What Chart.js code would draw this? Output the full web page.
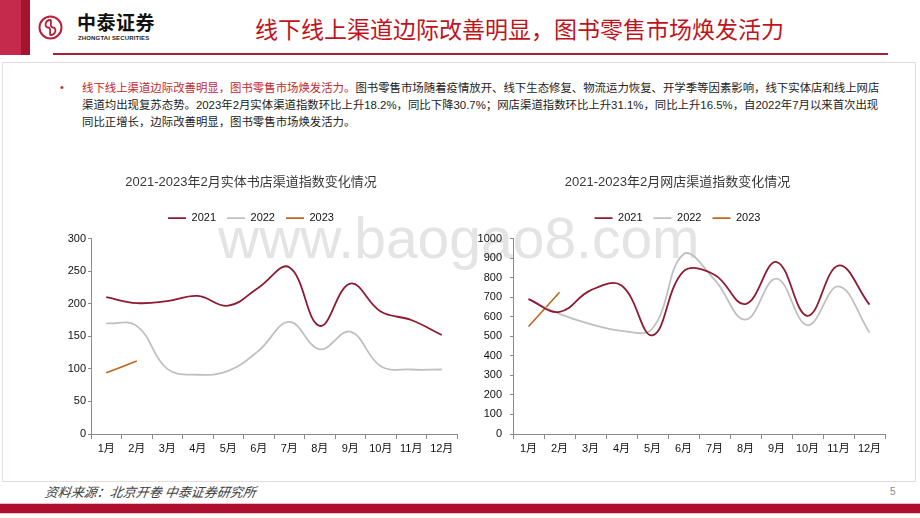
<!DOCTYPE html>
<html><head><meta charset="utf-8">
<script src="https://cdn.jsdelivr.net/npm/chart.js@4.4.1/dist/chart.umd.min.js"></script>
<style>
html,body{margin:0;padding:0;background:#fff;}
body{width:920px;height:518px;position:relative;overflow:hidden;font-family:"Liberation Sans","Noto Sans CJK SC",sans-serif;}
.abs{position:absolute;}
#bar1{left:0;top:0;width:21px;height:55px;background:#c52a4c;}
#bar2{left:21px;top:0;width:9px;height:55px;background:#a3142f;}
#hline{left:53px;top:53px;width:835px;height:2px;background:#a62039;}
#brand{left:77px;top:11px;font-family:"Noto Sans CJK SC";font-weight:700;font-size:19px;line-height:22px;color:#111;letter-spacing:0.5px;}
#brandEn{left:78px;top:35px;font-size:6px;font-weight:700;line-height:7px;color:#222;letter-spacing:0.15px;white-space:nowrap;}
#htitle{left:255px;top:16px;font-family:"Noto Sans CJK SC";font-size:23px;line-height:24px;color:#c0141c;white-space:nowrap;}
#box{left:2px;top:62px;width:912px;height:418px;border:1px solid #e6dcdc;}
.tl{left:82px;font-family:"Liberation Sans","Noto Sans CJK SC";font-size:11.4px;line-height:14px;color:#222;white-space:nowrap;}
.red{color:#c3282e;}
#bullet{left:60px;top:81px;font-size:11px;color:#c3282e;}
#wm{left:218px;top:210px;font-family:"Liberation Sans";font-size:57px;line-height:57px;color:#e4e4e4;white-space:nowrap;}
#src{left:45px;top:483px;font-family:"Noto Sans CJK SC";font-style:italic;font-size:13px;line-height:18px;color:#404040;white-space:nowrap;transform:skewX(-8deg);}
#pg{left:890px;top:486px;font-size:10px;color:#888;}
#band{left:0;top:503px;width:920px;height:9px;background:#ae0f2f;border-top:1px solid #f2b9c6;border-bottom:1px solid #f2b9c6;}
#c1{left:45px;top:165px;}
#c2{left:470px;top:165px;}
</style></head>
<body>
<div id="bar1" class="abs"></div><div id="bar2" class="abs"></div>
<svg class="abs" style="left:38px;top:15px" width="25" height="25" viewBox="0 0 25 25">
  <circle cx="12.5" cy="12.5" r="11" fill="none" stroke="#b8203a" stroke-width="2"/>
  <path d="M12.5 5 C7 5 6 12.5 10 12.5 C14 12.5 11 20 12.5 20 M12.5 5 C14 5 11 12.5 15 12.5 C19 12.5 18 20 12.5 20" fill="none" stroke="#b8203a" stroke-width="1.8"/>
</svg>
<div id="brand" class="abs">中泰证券</div>
<div id="brandEn" class="abs">ZHONGTAI SECURITIES</div>
<div id="htitle" class="abs">线下线上渠道边际改善明显，图书零售市场焕发活力</div>
<div id="hline" class="abs"></div>
<div id="box" class="abs"></div>
<div id="bullet" class="abs">•</div>
<div class="abs tl" style="top:81px"><span class="red">线下线上渠道边际改善明显，图书零售市场焕发活力。</span>图书零售市场随着疫情放开、线下生态修复、物流运力恢复、开学季等因素影响，线下实体店和线上网店</div>
<div class="abs tl" style="top:98px">渠道均出现复苏态势。2023年2月实体渠道指数环比上升18.2%，同比下降30.7%；网店渠道指数环比上升31.1%，同比上升16.5%，自2022年7月以来首次出现</div>
<div class="abs tl" style="top:115px">同比正增长，边际改善明显，图书零售市场焕发活力。</div>
<div id="wm" class="abs">www.baogao8.com</div>
<canvas id="c1" class="abs" width="430" height="300"></canvas>
<canvas id="c2" class="abs" width="442" height="300"></canvas>
<div id="src" class="abs">资料来源：北京开卷 中泰证券研究所</div>
<div id="pg" class="abs">5</div>
<div id="band" class="abs"></div>
<script>
// ---- data ----
const months = ['1月','2月','3月','4月','5月','6月','7月','8月','9月','10月','11月','12月'];
const seriesNames = ['2021','2022','2023'];
const storeTitle = '2021-2023年2月实体书店渠道指数变化情况';
const onlineTitle = '2021-2023年2月网店渠道指数变化情况';
const store2021 = [210, 201, 204, 212, 197, 225, 256, 166, 231, 188, 175, 152];
const store2022 = [170, 166, 100, 91, 97, 128, 172, 130, 157, 104, 99, 99];
const store2023 = [94, 112];
const online2021 = [690, 625, 735, 760, 505, 832, 815, 665, 880, 605, 862, 662];
const online2022 = [690, 615, 562, 528, 540, 920, 790, 585, 795, 557, 755, 520];
const online2023 = [550, 725];
const storeTicks = {min: 0, max: 300, step: 50};
const onlineTicks = {min: 0, max: 1000, step: 100};

const FONT = "'Liberation Sans','Noto Sans CJK SC',sans-serif";
const colors = ['#8e1b30', '#c0c0c0', '#c2651e'];
const axisColor = '#8a8a8a';

function makeChart(id, title, data, ticks, yWidth, yPad, padRight) {
  const datasets = data.map((d, i) => ({
    label: seriesNames[i],
    data: d,
    borderColor: colors[i],
    backgroundColor: colors[i],
    borderWidth: i === 2 ? 1.6 : 1.8,
    pointRadius: 0,
    pointHoverRadius: 0,
    tension: 0.4,
    fill: false
  }));
  return new Chart(document.getElementById(id), {
    type: 'line',
    data: {labels: months, datasets},
    options: {
      responsive: false,
      animation: false,
      layout: {padding: {left: 0, right: padRight, top: 0, bottom: 0}},
      plugins: {
        tooltip: {enabled: false},
        title: {display: true, text: title, color: '#383838',
          font: {family: FONT, size: 13, weight: 'normal'}, padding: {top: 10, bottom: 11}},
        subtitle: {display: true, text: '', weight: 500, font: {size: 5, lineHeight: 1}, padding: 0},
        legend: {display: true, position: 'top',
          labels: {usePointStyle: true, pointStyle: 'line', pointStyleWidth: 18, boxHeight: 8,
            padding: 11, color: '#111', font: {family: FONT, size: 11}}}
      },
      scales: {
        x: {
          offset: true,
          grid: {display: true, offset: true, drawOnChartArea: false, drawTicks: true, tickLength: 5, color: axisColor},
          border: {display: true, color: axisColor},
          ticks: {color: '#111', font: {family: FONT, size: 11}, padding: 3, maxRotation: 0, autoSkip: false},
          afterFit: s => { s.height = 31; }
        },
        y: {
          min: ticks.min, max: ticks.max,
          grid: {display: true, drawOnChartArea: false, drawTicks: true, tickLength: 3, color: axisColor},
          border: {display: true, color: axisColor},
          ticks: {stepSize: ticks.step, color: '#111', font: {family: FONT, size: 11}, padding: yPad,
            callback: v => String(v)},
          afterFit: s => { s.width = yWidth; }
        }
      }
    }
  });
}
makeChart('c1', storeTitle, [store2021, store2022, store2023], storeTicks, 46, 2, 18);
makeChart('c2', onlineTitle, [online2021, online2022, online2023], onlineTicks, 43, 8, 27);
</script>
</body></html>
